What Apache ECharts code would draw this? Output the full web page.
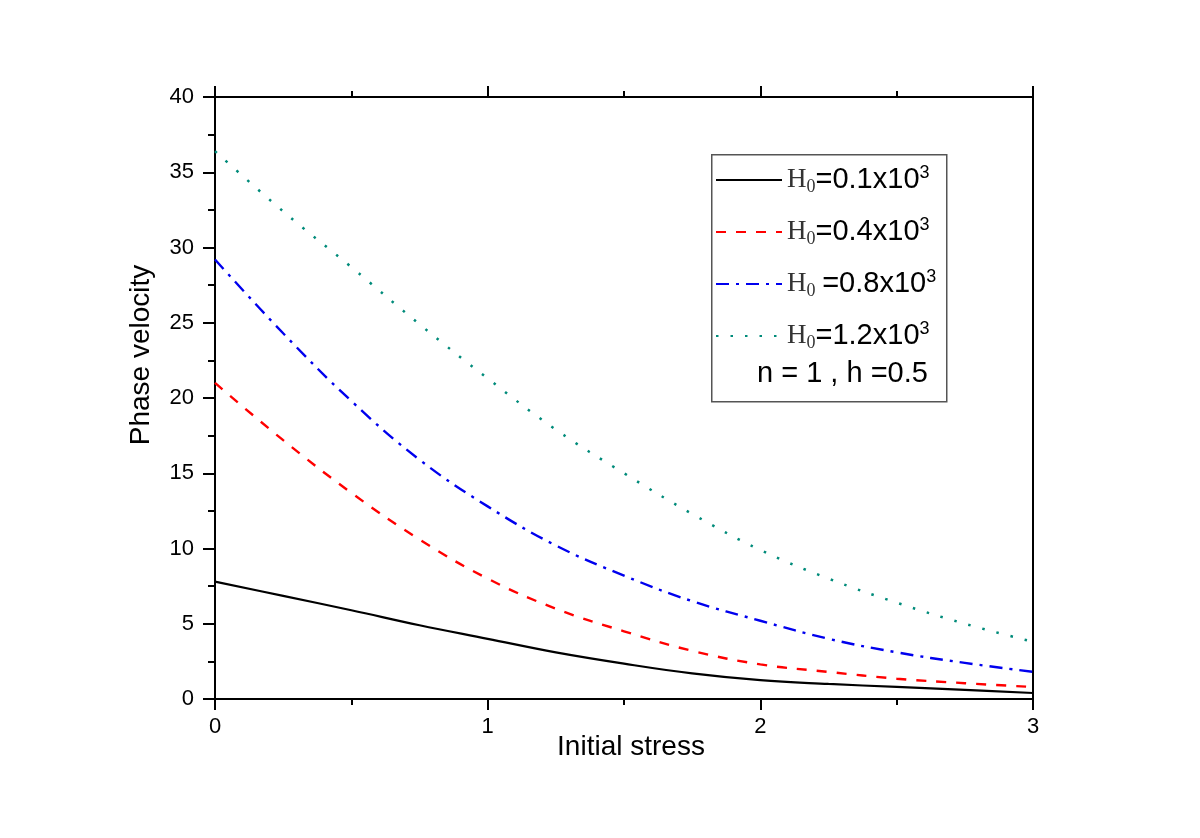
<!DOCTYPE html>
<html>
<head>
<meta charset="utf-8">
<script src="https://cdn.jsdelivr.net/npm/echarts@6/dist/echarts.min.js"></script>
<style>html,body{margin:0;padding:0;background:#fff}#c{width:1200px;height:838px}</style>
</head>
<body>
<div id="c"></div>
<script>
// Data
const xValues = [0, 0.25, 0.5, 0.75, 1, 1.25, 1.5, 1.75, 2, 2.25, 2.5, 2.75, 3];
const h01 = [7.8, 6.85, 5.9, 4.9, 4.0, 3.1, 2.35, 1.7, 1.25, 1.0, 0.8, 0.6, 0.4];
const h04 = [21.0, 17.2, 13.7, 10.6, 8.0, 6.0, 4.5, 3.2, 2.3, 1.8, 1.35, 1.05, 0.8];
const h08 = [29.2, 24.3, 19.8, 15.9, 12.8, 10.2, 8.2, 6.5, 5.2, 4.0, 3.1, 2.4, 1.8];
const h12 = [36.4, 32.4, 28.7, 24.9, 21.3, 17.9, 15.0, 12.3, 9.9, 8.0, 6.4, 5.0, 3.8];
const seriesNames = ['H0=0.1x10^3', 'H0=0.4x10^3', 'H0 =0.8x10^3', 'H0=1.2x10^3'];
const legendLabels = [
  ['', '=0.1x10'],
  ['', '=0.4x10'],
  [' ', '=0.8x10'],
  ['', '=1.2x10']
];
const noteText = 'n = 1 , h =0.5';
const xTitle = 'Initial stress';
const yTitle = 'Phase velocity';

const pairs = ys => xValues.map((x, i) => [x, ys[i]]);
const styles = [
  {color: '#000000', type: 'solid', width: 2.2},
  {color: '#ff0000', type: [10, 10], width: 2.4},
  {color: '#0000ee', type: [13, 7, 3, 7], width: 2.4},
  {color: '#008b7a', type: [2.5, 12], width: 2.5}
];
const allData = [h01, h04, h08, h12];

const chart = echarts.init(document.getElementById('c'));
const font = 'Liberation Sans, Arial, sans-serif';
const serif = 'Liberation Serif, Times New Roman, serif';
const axisLine = {show: true, onZero: false, lineStyle: {color: '#000', width: 2}};

chart.setOption({
  animation: false,
  backgroundColor: '#fff',
  grid: {left: 215, right: 167, top: 97, bottom: 139, containLabel: false},
  xAxis: [{
    type: 'value', min: 0, max: 3, interval: 1, position: 'bottom',
    name: xTitle, nameLocation: 'middle', nameGap: 34, nameMoveOverlap: false,
    nameTextStyle: {fontFamily: font, fontSize: 28, color: '#000', padding: [0, 0, 0, 14]},
    axisLine: axisLine,
    axisTick: {show: true, inside: false, length: 11, lineStyle: {color: '#000', width: 2}},
    minorTick: {show: true, splitNumber: 2, length: 6, lineStyle: {color: '#000', width: 2}},
    axisLabel: {fontFamily: font, fontSize: 22, color: '#000', margin: 17},
    splitLine: {show: false}
  }, {
    type: 'value', min: 0, max: 3, interval: 1, position: 'top',
    axisLine: axisLine,
    axisTick: {show: true, inside: false, length: 11, lineStyle: {color: '#000', width: 2}},
    minorTick: {show: true, splitNumber: 2, length: 6, lineStyle: {color: '#000', width: 2}},
    axisLabel: {show: false},
    splitLine: {show: false}
  }],
  yAxis: [{
    type: 'value', min: 0, max: 40, interval: 5, position: 'left',
    name: yTitle, nameLocation: 'middle', nameGap: 60, nameRotate: 90,
    nameTextStyle: {fontFamily: font, fontSize: 28, color: '#000', padding: [0, 0, 0, 86]},
    axisLine: axisLine,
    axisTick: {show: true, inside: false, length: 12, lineStyle: {color: '#000', width: 2}},
    minorTick: {show: true, splitNumber: 2, length: 7, lineStyle: {color: '#000', width: 2}},
    axisLabel: {fontFamily: font, fontSize: 22, color: '#000', margin: 21},
    splitLine: {show: false}
  }, {
    type: 'value', min: 0, max: 40, interval: 5, position: 'right',
    axisLine: axisLine,
    axisTick: {show: false},
    axisLabel: {show: false},
    splitLine: {show: false}
  }],
  legend: {
    orient: 'vertical', left: 711, top: 162, padding: [2, 4],
    itemWidth: 66, itemHeight: 14, itemGap: 20,
    itemStyle: {opacity: 0},
    data: seriesNames,
    formatter: function (name) {
      const i = seriesNames.indexOf(name);
      return '{h|H}{s|0}' + (legendLabels[i][0] ? '{sp| }' : '') + '{t|' + legendLabels[i][1] + '}{p|3}';
    },
    textStyle: {
      color: '#000',
      rich: {
        h: {fontFamily: serif, fontSize: 27, color: '#333', lineHeight: 32, verticalAlign: 'middle'},
        s: {fontFamily: serif, fontSize: 18, color: '#333', lineHeight: 32, verticalAlign: 'bottom'},
        sp: {fontFamily: font, fontSize: 24, lineHeight: 32},
        t: {fontFamily: font, fontSize: 29, color: '#000', lineHeight: 32, verticalAlign: 'middle'},
        p: {fontFamily: font, fontSize: 18, color: '#000', lineHeight: 32, verticalAlign: 'top'}
      }
    }
  },
  graphic: [{
    type: 'rect', left: 711, top: 154, silent: true, z: 0,
    shape: {width: 235, height: 247},
    style: {fill: '#fff', stroke: '#555', lineWidth: 1.5}
  }, {
    type: 'text', left: 757, top: 359, silent: true, z: 10,
    style: {text: noteText, font: '29px Liberation Sans, Arial, sans-serif', fill: '#000'}
  }],
  series: allData.map((ys, i) => ({
    name: seriesNames[i], type: 'line', xAxisIndex: 0, yAxisIndex: 0,
    data: pairs(ys), smooth: 0.4, showSymbol: false, symbol: 'none',
    lineStyle: styles[i], itemStyle: {color: styles[i].color}, z: 2
  }))
});
</script>
</body>
</html>
